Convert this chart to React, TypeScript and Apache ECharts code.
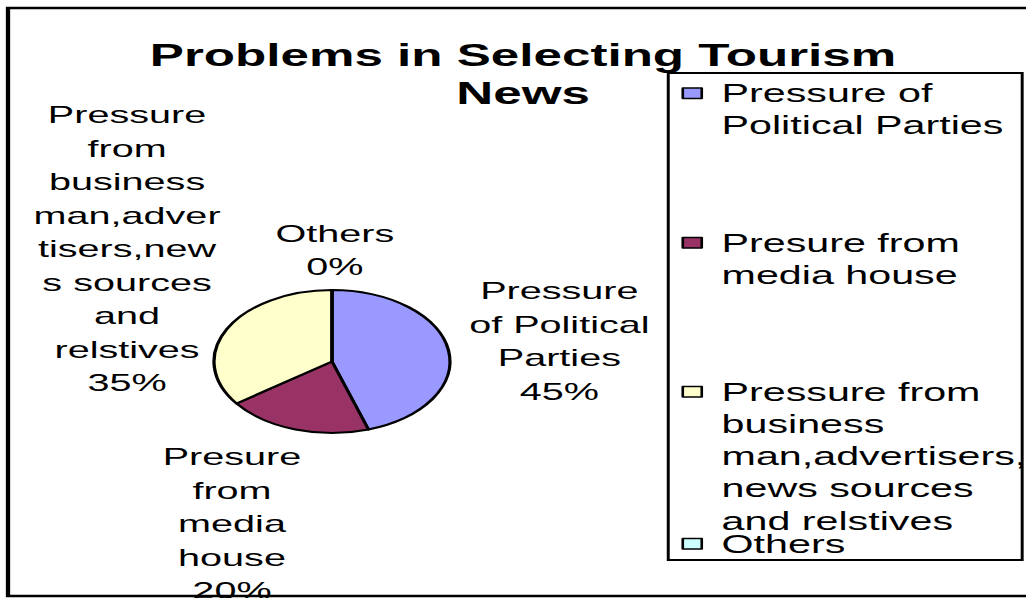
import React, { useEffect, useRef } from "react";
import * as echarts from "echarts";

// ---------- data ----------
const titleText = "Problems in Selecting Tourism\nNews";
const categories = [
  "Pressure of Political Parties",
  "Presure from media house",
  "Pressure from business man,advertisers, news sources and relstives",
  "Others",
];
const values = [45, 20, 35, 0];
const legendLabels = [
  "Pressure of\nPolitical Parties",
  "Presure from\nmedia house",
  "Pressure from\nbusiness\nman,advertisers,\nnews sources\nand relstives",
  "Others",
];
const sliceLabels = [
  "Pressure\nof Political\nParties",
  "Presure\nfrom\nmedia\nhouse",
  "Pressure\nfrom\nbusiness\nman,adver\ntisers,new\ns sources\nand\nrelstives",
  "Others",
];
const colors = ["#9999FF", "#993366", "#FFFFCC", "#CCFFFF"];

// ---------- layout (unscaled coordinates; the whole chart is stretched horizontally) ----------
const SX = 1.65;
const W = 1026 / SX;
const H = 598;
const FONT = '"Liberation Sans", Arial, Helvetica, sans-serif';
const LH = 33.5;
const LHL = 32.3;
const labelCenters: number[][] = [
  [339, 341],
  [140.6, 524],
  [77, 249],
  [203, 250],
];
const legendFirstLine = [92.5, 242, 391, 543];
const ICON_W = 11.5;
const ICON_H = 10.5;

export default function App() {
  const ref = useRef<HTMLDivElement>(null);
  useEffect(() => {
    if (!ref.current) return;
    const chart = echarts.init(ref.current, undefined, { renderer: "svg" });
    const legends = categories.map((name, i) => {
      const n = legendLabels[i].split("\n").length;
      const h = n * LHL;
      const a = LHL / 2 - ICON_H / 2;
      return {
        orient: "vertical",
        left: 413,
        top: legendFirstLine[i] - LHL / 2,
        padding: 0,
        itemWidth: ICON_W,
        itemHeight: h,
        icon: `path://M0,0M${ICON_W},${h}M0,${a}h${ICON_W}v${ICON_H}h-${ICON_W}Z`,
        selectedMode: false,
        data: [name],
        formatter: () => legendLabels[i],
        itemStyle: { borderColor: "#000", borderWidth: 1.6 },
        textStyle: {
          fontFamily: FONT,
          fontSize: 25,
          color: "#000",
          lineHeight: LHL,
          padding: [0, 0, 0, 7],
        },
      };
    });
    chart.setOption({
      animation: false,
      backgroundColor: "#fff",
      color: colors,
      title: {
        text: titleText,
        left: 312,
        top: 31,
        textAlign: "center",
        textStyle: {
          fontFamily: FONT,
          fontSize: 31,
          fontWeight: "bold",
          color: "#000",
          lineHeight: 38,
        },
      },
      legend: legends,
      graphic: [
        {
          type: "rect",
          z: 100,
          shape: { x: 4.85, y: 8, width: 640, height: 588 },
          style: { fill: "none", stroke: "#000", lineWidth: 2.6 },
        },
        {
          type: "rect",
          z: 50,
          shape: { x: 405, y: 73, width: 214.5, height: 487 },
          style: { fill: "none", stroke: "#000", lineWidth: 1.8 },
        },
      ],
      series: [
        {
          type: "pie",
          center: [201.2, 361.5],
          radius: 71.5,
          startAngle: 90,
          clockwise: true,
          avoidLabelOverlap: false,
          itemStyle: { borderColor: "#000", borderWidth: 2 },
          emphasis: { disabled: true },
          label: {
            show: true,
            position: "outside",
            fontFamily: FONT,
            fontSize: 24,
            lineHeight: LH,
            color: "#000",
            align: "center",
            formatter: (p: any) => `${sliceLabels[p.dataIndex]}\n${Math.round(p.percent)}%`,
          },
          labelLine: { show: false },
          labelLayout: (p: any) => ({
            x: labelCenters[p.dataIndex][0],
            y: labelCenters[p.dataIndex][1],
            align: "center",
            verticalAlign: "middle",
          }),
          data: categories.map((name, i) => ({ name, value: values[i] })),
        },
      ],
    });
    return () => chart.dispose();
  }, []);
  return (
    <div
      style={{
        position: "fixed",
        left: 0,
        top: 0,
        width: 1026,
        height: 598,
        overflow: "hidden",
        background: "#fff",
      }}
    >
      <div
        ref={ref}
        style={{
          width: W,
          height: H,
          transform: `scaleX(${SX})`,
          transformOrigin: "0 0",
        }}
      />
    </div>
  );
}
